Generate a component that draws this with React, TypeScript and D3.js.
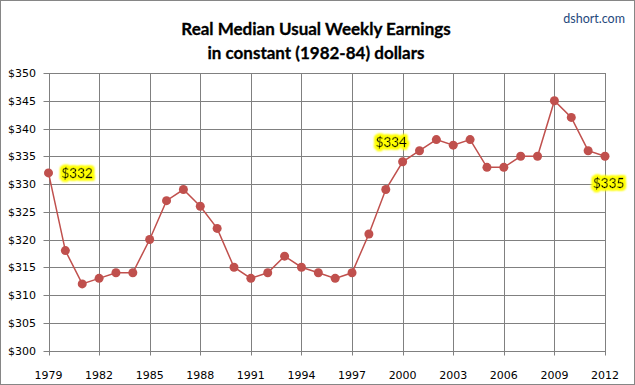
import React from "react";
import * as d3 from "d3";

const years: number[] = [1979,1980,1981,1982,1983,1984,1985,1986,1987,1988,1989,1990,1991,1992,1993,1994,1995,1996,1997,1998,1999,2000,2001,2002,2003,2004,2005,2006,2007,2008,2009,2010,2011,2012];
const earnings: number[] = [332,318,312,313,314,314,320,327,329,326,322,315,313,314,317,315,314,313,314,321,329,334,336,338,337,338,333,333,335,335,345,342,336,335];
const xTickYears: number[] = [1979,1982,1985,1988,1991,1994,1997,2000,2003,2006,2009,2012];
const yTicks: number[] = [300,305,310,315,320,325,330,335,340,345,350];
const callouts: { year: number; label: string; dx: number; dy: number }[] = [
  { year: 1979, label: "$332", dx: 13, dy: 0 },
  { year: 2000, label: "$334", dx: -27, dy: -20 },
  { year: 2012, label: "$335", dx: -12, dy: 27 },
];
const titleLines: string[] = ["Real Median Usual Weekly Earnings", "in constant (1982-84) dollars"];

export default function App() {
  const W = 635, H = 385;
  const x = d3.scaleLinear().domain([1979, 2012]).range([48.5, 605]);
  const y = d3.scaleLinear().domain([300, 350]).range([350.5, 73]);
  const line = d3.line<number>().x((_, i) => x(years[i])).y((d) => y(d));
  const red = "#C0504D";
  const grid = "#808080";
  return (
    <svg width={W} height={H} style={{ position: "absolute", left: 0, top: 0, background: "#fff" }}>
      <defs>
        <filter id="glow" x="-30%" y="-50%" width="160%" height="200%">
          <feMorphology in="SourceAlpha" operator="dilate" radius={2.2} result="d" />
          <feGaussianBlur in="d" stdDeviation={1.3} result="b" />
          <feFlood floodColor="#FFFF00" result="f" />
          <feComposite in="f" in2="b" operator="in" result="g" />
          <feMerge>
            <feMergeNode in="g" />
            <feMergeNode in="g" />
            <feMergeNode in="SourceGraphic" />
          </feMerge>
        </filter>
      </defs>
      <rect x={0.5} y={0.5} width={W - 1} height={H - 1} fill="#fff" stroke="#868686" />
      {titleLines.map((t, i) => (
        <text key={t} x={316} y={35 + i * 24} textAnchor="middle" fontFamily="Lato" fontWeight="bold" fontSize={17} fill="#000" stroke="#000" strokeWidth={0.3}>{t}</text>
      ))}
      <text x={625} y={23} textAnchor="end" fontFamily="Lato" fontSize={12.5} fill="#1F497D">dshort.com</text>
      {yTicks.map((v) => (
        <g key={v}>
          <line x1={x(1979) - 5} x2={x(2012)} y1={Math.round(y(v)) + 0.5} y2={Math.round(y(v)) + 0.5} stroke={grid} />
          <text x={36} y={Math.round(y(v)) + 4} textAnchor="end" fontFamily="DejaVu Sans" fontSize={11} fill="#000">${v}</text>
        </g>
      ))}
      {xTickYears.map((yr) => (
        <g key={yr}>
          <line x1={Math.round(x(yr)) + 0.5} x2={Math.round(x(yr)) + 0.5} y1={y(350)} y2={y(300) + 5} stroke={grid} />
          <text x={x(yr)} y={379} textAnchor="middle" fontFamily="DejaVu Sans" fontSize={11} fill="#000">{yr}</text>
        </g>
      ))}
      <path d={line(earnings) || ""} fill="none" stroke={red} strokeWidth={1.5} />
      {earnings.map((v, i) => (
        <circle key={years[i]} cx={x(years[i])} cy={y(v)} r={4.5} fill={red} />
      ))}
      {callouts.map((c) => {
        const i = years.indexOf(c.year);
        return (
          <text key={c.label + c.year} x={x(c.year) + c.dx} y={y(earnings[i]) + c.dy + 5} fontFamily="Lato" fontSize={13.5}
            fill="#000" stroke="#000" strokeWidth={0.3} filter="url(#glow)">{c.label}</text>
        );
      })}
    </svg>
  );
}
